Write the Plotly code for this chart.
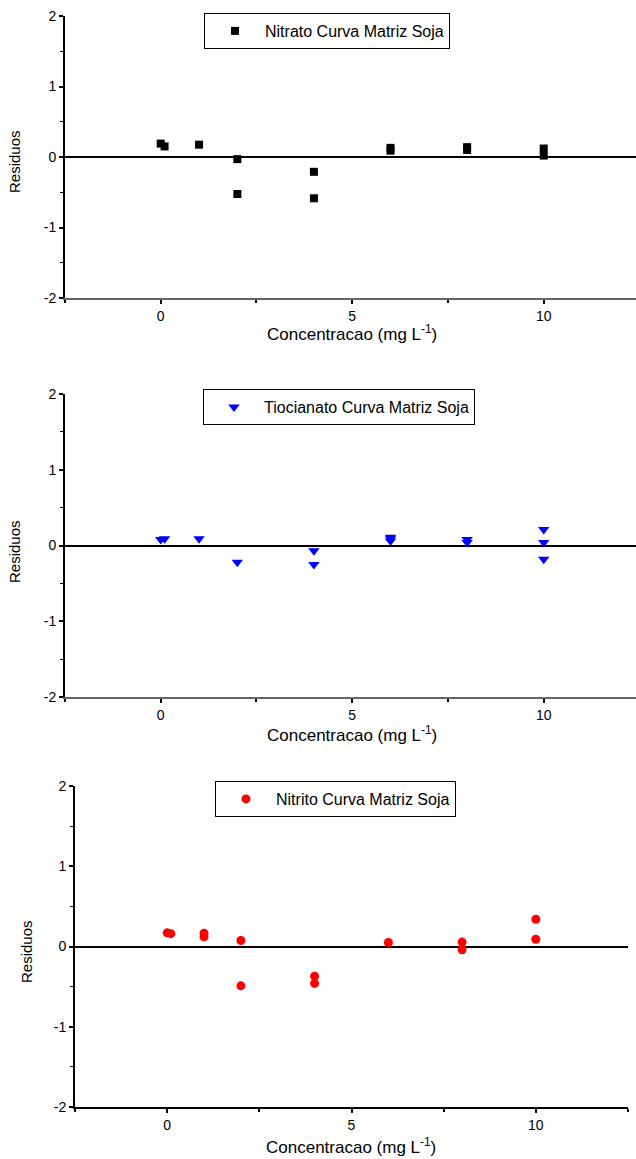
import plotly.graph_objects as go

# ---- data ----
nitrato_x = [0, 0.1, 1, 2, 2, 4, 4, 6, 6, 8, 8, 10, 10]
nitrato_y = [0.19, 0.15, 0.175, -0.03, -0.525, -0.21, -0.585, 0.13, 0.09, 0.14, 0.10, 0.12, 0.02]

tiocianato_x = [0, 0.1, 1, 2, 4, 4, 6, 6, 6, 8, 8, 10, 10, 10]
tiocianato_y = [0.08, 0.09, 0.09, -0.22, -0.07, -0.25, 0.11, 0.09, 0.06, 0.08, 0.04, 0.21, 0.04, -0.18]

nitrito_x = [0, 0.1, 1, 1, 2, 2, 4, 4, 6, 8, 8, 10, 10]
nitrito_y = [0.17, 0.16, 0.165, 0.12, 0.075, -0.49, -0.37, -0.46, 0.05, 0.055, -0.04, 0.34, 0.09]

names = ["Nitrato Curva Matriz Soja", "Tiocianato Curva Matriz Soja", "Nitrito Curva Matriz Soja"]
x_title = "Concentracao (mg L<sup>-1</sup>)"
y_title = "Residuos"
x_ticks = [0, 5, 10]
x_tick_labels = ["0", "5", "10"]
y_ticks = [-2, -1, 0, 1, 2]
y_tick_labels = ["-2", "-1", "0", "1", "2"]

W, H = 636, 1159
FONT = "Liberation Sans, Arial, sans-serif"

def px_x(p):
    return p / W

def px_y(p):
    return 1 - p / H

fig = go.Figure()

fig.add_trace(go.Scatter(x=nitrato_x, y=nitrato_y, mode="markers", name=names[0],
                         marker=dict(symbol="square", size=8, color="black"),
                         xaxis="x", yaxis="y", legend="legend"))
fig.add_trace(go.Scatter(x=tiocianato_x, y=tiocianato_y, mode="markers", name=names[1],
                         marker=dict(symbol="triangle-down", size=10, color="#0000FF"),
                         xaxis="x2", yaxis="y2", legend="legend2"))
fig.add_trace(go.Scatter(x=nitrito_x, y=nitrito_y, mode="markers", name=names[2],
                         marker=dict(symbol="circle", size=9, color="#FF0000"),
                         xaxis="x3", yaxis="y3", legend="legend3"))

# panel geometry in pixels: (left, right, top, bottom, xmax, bottom-axis colour)
panels = [
    (65, 636, 16, 298, 12.41, "#666666"),
    (65, 636, 394, 697, 12.41, "#666666"),
    (75, 628, 786, 1107, 12.5, "black"),
]

def xaxis_cfg(l, r, xmax, col, anchor):
    return dict(domain=[px_x(l), px_x(r)], range=[-2.5, xmax], anchor=anchor,
                showline=True, linecolor=col, linewidth=2, showgrid=False, zeroline=False,
                tickmode="array", tickvals=x_ticks, ticktext=x_tick_labels,
                ticks="outside", ticklen=4, tickwidth=2, tickcolor="black",
                minor=dict(ticks="outside", dtick=2.5, tick0=0, ticklen=3, tickwidth=1.5, tickcolor="black"),
                tickfont=dict(family=FONT, size=14, color="black"))

def yaxis_cfg(t, b, anchor):
    return dict(domain=[px_y(b), px_y(t)], range=[-2, 2], anchor=anchor,
                showline=True, linecolor="black", linewidth=2, showgrid=False,
                zeroline=True, zerolinecolor="black", zerolinewidth=1.5,
                tickmode="array", tickvals=y_ticks, ticktext=y_tick_labels,
                ticks="outside", ticklen=4, tickwidth=1.5, tickcolor="black",
                minor=dict(ticks="outside", dtick=0.5, tick0=0, ticklen=3, tickwidth=1, tickcolor="black"),
                tickfont=dict(family=FONT, size=14, color="black"))

layout = dict(
    width=W, height=H, margin=dict(l=0, r=0, t=0, b=0, autoexpand=False),
    showlegend=True,
    paper_bgcolor="white", plot_bgcolor="white",
    font=dict(family=FONT, color="black"),
    xaxis=xaxis_cfg(panels[0][0], panels[0][1], panels[0][4], panels[0][5], "y"),
    yaxis=yaxis_cfg(panels[0][2], panels[0][3], "x"),
    xaxis2=xaxis_cfg(panels[1][0], panels[1][1], panels[1][4], panels[1][5], "y2"),
    yaxis2=yaxis_cfg(panels[1][2], panels[1][3], "x2"),
    xaxis3=xaxis_cfg(panels[2][0], panels[2][1], panels[2][4], panels[2][5], "y3"),
    yaxis3=yaxis_cfg(panels[2][2], panels[2][3], "x3"),
)

legend_pos = [(204, 13), (203, 389), (215, 781)]
for i, (lx, ly) in enumerate(legend_pos):
    key = "legend" if i == 0 else f"legend{i+1}"
    layout[key] = dict(x=px_x(lx), y=px_y(ly), xanchor="left", yanchor="top",
                       visible=True,
                       bgcolor="white", bordercolor="black", borderwidth=1,
                       font=dict(family=FONT, size=16, color="black"),
                       itemwidth=50, tracegroupgap=0)

fig.update_layout(**layout)

# axis titles
xt_pos = [(352, 333), (352, 734), (351, 1146)]
yt_pos = [(15, 162), (15, 552), (26, 952)]
for (xx, yy) in xt_pos:
    fig.add_annotation(text=x_title, x=px_x(xx), y=px_y(yy), xref="paper", yref="paper",
                       xanchor="center", yanchor="middle", showarrow=False,
                       font=dict(family=FONT, size=17, color="black"))
for (xx, yy) in yt_pos:
    fig.add_annotation(text=y_title, x=px_x(xx), y=px_y(yy), xref="paper", yref="paper",
                       xanchor="center", yanchor="middle", showarrow=False, textangle=-90,
                       font=dict(family=FONT, size=15, color="black"))

fig.write_html("out.html")
